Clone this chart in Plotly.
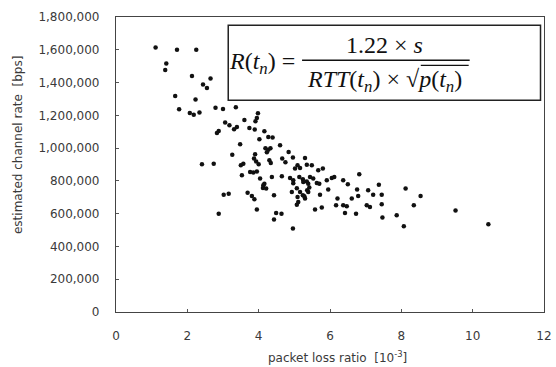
import plotly.graph_objects as go

# packet loss ratio [10^-3]
loss = [1.11, 1.71, 2.25, 1.41, 1.38, 2.13, 2.65, 2.44, 2.55, 1.66, 2.23, 1.77, 2.07, 2.18, 2.34,
        2.79, 3.00, 3.36, 3.06, 3.18, 2.88, 2.83, 3.39, 3.98, 3.95, 3.91, 3.60, 3.31, 3.74, 3.89,
        4.16, 4.27, 4.39, 4.02, 3.48, 4.19, 4.27, 4.33, 4.23, 4.60, 4.84, 3.26, 3.90, 3.87, 3.93,
        4.00, 4.66, 4.75, 4.96, 3.50, 3.57, 5.09, 5.16, 5.02, 3.76, 3.85, 3.95, 3.53, 4.04, 4.37,
        4.65, 4.88, 4.97, 5.14, 5.24, 5.35, 4.12, 3.02, 3.16, 3.69, 3.81, 3.88, 3.95, 4.43, 4.49,
        4.64, 4.43, 4.96, 4.97, 5.07, 5.16, 5.09, 5.11, 5.07, 5.24, 4.93, 5.30, 4.13, 4.21, 2.88,
        4.16, 2.41, 2.74, 4.30, 4.34, 5.30, 5.35, 5.49, 5.67, 5.80, 5.44, 5.53, 5.25, 5.39, 5.42,
        5.36, 5.39, 5.63, 5.70, 5.91, 6.05, 6.12, 6.37, 6.50, 6.82, 5.95, 5.72, 5.28, 6.76, 6.79,
        7.07, 7.37, 7.21, 7.45, 6.21, 6.61, 6.17, 6.37, 6.47, 7.03, 7.12, 7.45, 5.58, 5.77, 6.42,
        6.73, 7.47, 7.87, 8.12, 8.54, 8.35, 8.07, 9.52, 10.44]

# estimated channel rate [bps], in thousands
rate_k = [1614, 1600, 1600, 1517, 1477, 1440, 1424, 1388, 1367, 1318, 1296, 1237, 1214, 1204, 1217,
          1247, 1239, 1249, 1156, 1139, 1104, 1092, 1129, 1212, 1184, 1164, 1172, 1115, 1123, 1113,
          1103, 1068, 1064, 1054, 1023, 999, 990, 999, 975, 1017, 976, 960, 962, 936, 919,
          901, 936, 913, 942, 895, 905, 895, 879, 875, 854, 851, 858, 834, 814, 824,
          828, 818, 804, 824, 810, 797, 757, 716, 722, 728, 708, 688, 625, 712, 604,
          600, 564, 509, 785, 755, 732, 702, 671, 655, 712, 732, 692, 773, 753, 600,
          783, 901, 905, 926, 909, 940, 899, 895, 865, 875, 824, 814, 793, 783, 759,
          743, 732, 787, 783, 804, 818, 824, 804, 779, 840, 747, 716, 706, 747, 708,
          743, 777, 716, 716, 692, 692, 651, 651, 645, 651, 641, 657, 625, 637, 604,
          600, 576, 590, 753, 708, 651, 523, 620, 535]
rate = [v * 1000 for v in rate_k]

y_ticks = [0, 200000, 400000, 600000, 800000, 1000000, 1200000, 1400000, 1600000, 1800000]
x_ticks = [0, 2, 4, 6, 8, 10, 12]

W, H = 556, 367
L, R, T, B = 115.5, 544.5, 16.7, 311.7

def px(xp):
    return (xp - L) / (R - L)

def py(yp):
    return (B - yp) / (B - T)

fig = go.Figure()
fig.add_trace(go.Scatter(
    x=loss, y=rate, mode="markers",
    marker=dict(symbol="circle", size=4.5, color="#111111", line=dict(width=0)),
    showlegend=False, hoverinfo="skip"))

axis_font = dict(family="DejaVu Sans", size=12, color="#3a3a3a")
fig.update_layout(
    template="none",
    width=W, height=H,
    margin=dict(l=L, r=W - R, t=T, b=H - B, pad=0),
    paper_bgcolor="white", plot_bgcolor="white",
    xaxis=dict(range=[0, 12], tickvals=x_ticks, ticks="inside", ticklen=3,
               tickcolor="#555", showgrid=False, zeroline=False, automargin=False,
               showline=True, linecolor="#444", linewidth=1.2, mirror=True,
               tickfont=axis_font, ticklabelstandoff=12),
    yaxis=dict(range=[0, 1800000], tickvals=y_ticks, tickformat=",", ticks="inside",
               ticklen=3, tickcolor="#555", showgrid=False, zeroline=False, automargin=False,
               showline=True, linecolor="#444", linewidth=1.2, mirror=True,
               tickfont=axis_font, ticklabelstandoff=13),
)

def ann(x, y, text, font, **kw):
    d = dict(x=px(x), y=py(y), xref="paper", yref="paper", text=text, showarrow=False,
             font=font, xanchor="center", yanchor="middle")
    d.update(kw)
    fig.add_annotation(**d)

# axis titles
ann(338, 357, "packet loss ratio  [10<sup>-3</sup>]",
    dict(family="DejaVu Sans", size=12, color="#3a3a3a"))
ann(18, 145, "estimated channel rate  [bps]",
    dict(family="DejaVu Sans", size=12, color="#3a3a3a"), textangle=-90)

# formula box
fig.add_shape(type="rect", xref="paper", yref="paper",
              x0=px(228), x1=px(541), y0=py(100), y1=py(25),
              line=dict(color="#222", width=1.5), fillcolor="white", layer="above")
serif = dict(family="Liberation Serif", size=24, color="#111")
ann(297, 63, "<i>R</i>(<i>t</i><sub><i>n</i></sub>) =", serif, xanchor="right")
ann(385, 45, "1.22 × <i>s</i>", serif)
fig.add_shape(type="line", xref="paper", yref="paper",
              x0=px(302), x1=px(470), y0=py(60), y1=py(60),
              line=dict(color="#111", width=1.5))
ann(385, 81, "<i>RTT</i>(<i>t</i><sub><i>n</i></sub>) × √<i>p</i>(<i>t</i><sub><i>n</i></sub>)", serif)
fig.add_shape(type="line", xref="paper", yref="paper",
              x0=px(421), x1=px(469), y0=py(65), y1=py(65),
              line=dict(color="#111", width=1.2))

fig.write_html("out.html")
